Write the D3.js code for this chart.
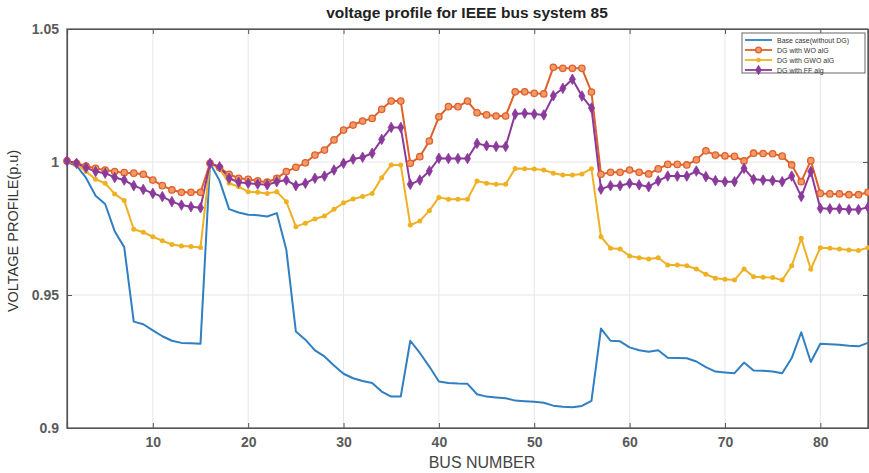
<!DOCTYPE html>
<html>
<head>
<meta charset="utf-8">
<script src="https://cdn.jsdelivr.net/npm/d3@7"></script>
<style>
  body { margin: 0; background: #fff; }
  svg { font-family: "Liberation Sans", Arial, sans-serif; }
</style>
</head>
<body>
<svg id="chart" width="869" height="473"></svg>
<script>
const buses = d3.range(1, 86);

const baseCase = [1.0000,0.9986,0.9940,0.9873,0.9842,0.9740,0.9680,0.9400,0.9390,0.9367,
  0.9345,0.9328,0.9320,0.9319,0.9317,0.9995,0.9930,0.9823,0.9810,0.9802,
  0.9800,0.9795,0.9808,0.9670,0.9363,0.9332,0.9292,0.9269,0.9235,0.9204,
  0.9187,0.9177,0.9169,0.9137,0.9118,0.9118,0.9328,0.9282,0.9231,0.9175,
  0.9169,0.9167,0.9166,0.9127,0.9118,0.9115,0.9112,0.9103,0.9101,0.9099,
  0.9095,0.9084,0.9080,0.9078,0.9083,0.9102,0.9374,0.9328,0.9326,0.9303,
  0.9292,0.9287,0.9292,0.9264,0.9263,0.9262,0.9250,0.9229,0.9212,0.9209,
  0.9206,0.9246,0.9216,0.9215,0.9212,0.9206,0.9263,0.9360,0.9248,0.9317,
  0.9315,0.9313,0.9309,0.9307,0.9320];

const woAlg = [1.0004,0.9995,0.9985,0.9976,0.9970,0.9964,0.9960,0.9958,0.9954,0.9932,
  0.9911,0.9895,0.9886,0.9886,0.9886,0.9995,0.9979,0.9954,0.9939,0.9935,
  0.9929,0.9924,0.9939,0.9964,0.9980,0.9997,1.0026,1.0045,1.0083,1.0120,
  1.0139,1.0154,1.0164,1.0198,1.0229,1.0229,0.9995,1.0020,1.0079,1.0170,
  1.0208,1.0208,1.0229,1.0185,1.0177,1.0173,1.0173,1.0264,1.0264,1.0258,
  1.0256,1.0356,1.0352,1.0352,1.0352,1.0263,0.9954,0.9961,0.9961,0.9970,
  0.9961,0.9955,0.9974,0.9991,0.9991,0.9989,1.0008,1.0042,1.0026,1.0023,
  1.0021,1.0004,1.0033,1.0032,1.0031,1.0022,0.9989,0.9926,1.0005,0.9882,
  0.9880,0.9880,0.9877,0.9877,0.9886];

const gwoAlg = [1.0004,0.9991,0.9964,0.9935,0.9920,0.9880,0.9855,0.9747,0.9736,0.9719,
  0.9704,0.9690,0.9684,0.9682,0.9679,0.9995,0.9974,0.9920,0.9907,0.9888,
  0.9886,0.9882,0.9888,0.9851,0.9757,0.9770,0.9786,0.9797,0.9822,0.9847,
  0.9861,0.9870,0.9882,0.9941,0.9989,0.9989,0.9763,0.9778,0.9817,0.9867,
  0.9860,0.9860,0.9860,0.9929,0.9920,0.9916,0.9916,0.9976,0.9975,0.9974,
  0.9970,0.9958,0.9951,0.9951,0.9955,0.9975,0.9719,0.9676,0.9673,0.9647,
  0.9640,0.9635,0.9640,0.9613,0.9613,0.9610,0.9598,0.9578,0.9563,0.9559,
  0.9556,0.9598,0.9569,0.9567,0.9566,0.9556,0.9610,0.9713,0.9597,0.9678,
  0.9676,0.9673,0.9669,0.9667,0.9678];

const ffAlg = [1.0004,0.9995,0.9979,0.9964,0.9958,0.9942,0.9932,0.9911,0.9897,0.9882,
  0.9870,0.9851,0.9838,0.9832,0.9828,0.9995,0.9982,0.9939,0.9924,0.9920,
  0.9917,0.9914,0.9926,0.9932,0.9911,0.9920,0.9939,0.9947,0.9970,0.9995,
  1.0011,1.0018,1.0033,1.0085,1.0130,1.0130,0.9916,0.9932,0.9966,1.0014,
  1.0013,1.0013,1.0013,1.0070,1.0061,1.0058,1.0058,1.0180,1.0183,1.0180,
  1.0177,1.0249,1.0277,1.0311,1.0248,1.0203,0.9898,0.9911,0.9911,0.9920,
  0.9914,0.9907,0.9929,0.9947,0.9947,0.9947,0.9966,0.9945,0.9930,0.9926,
  0.9926,0.9976,0.9935,0.9932,0.9930,0.9926,0.9947,0.9870,0.9964,0.9826,
  0.9824,0.9824,0.9821,0.9821,0.9830];

const seriesNames = ["Base case(without DG)", "DG with WO alG", "DG with GWO alG", "DG with FF alg"];
const seriesColors = ["#2f7fc1", "#e0602a", "#efb123", "#8a3a9a"];
const seriesMarkers = ["none", "circle", "dot", "diamond"];
const xTicks = [10, 20, 30, 40, 50, 60, 70, 80];
const yTicks = [0.9, 0.95, 1, 1.05];

const svg = d3.select("#chart");
const m = {left: 67, right: 868, top: 29, bottom: 428};

const x = d3.scaleLinear().domain([1, 85]).range([m.left, m.right]);
const y = d3.scaleLinear().domain([0.9, 1.05]).range([m.bottom, m.top]);

// grid
svg.append("g").selectAll("line").data(xTicks).join("line")
  .attr("x1", d => x(d)).attr("x2", d => x(d))
  .attr("y1", m.top).attr("y2", m.bottom)
  .attr("stroke", "#e6e6e6").attr("stroke-width", 1);
svg.append("g").selectAll("line").data(yTicks).join("line")
  .attr("x1", m.left).attr("x2", m.right)
  .attr("y1", d => y(d)).attr("y2", d => y(d))
  .attr("stroke", "#e6e6e6").attr("stroke-width", 1);

// frame
svg.append("rect").attr("x", m.left).attr("y", m.top)
  .attr("width", m.right - m.left).attr("height", m.bottom - m.top)
  .attr("fill", "none").attr("stroke", "#555").attr("stroke-width", 1.2);

// axes (ticks pointing inward, matlab style)
const xAxis = svg.append("g").attr("transform", `translate(0,${m.bottom})`)
  .call(d3.axisBottom(x).tickValues(xTicks).tickSize(-5).tickPadding(9));
const xAxisTop = svg.append("g").attr("transform", `translate(0,${m.top})`)
  .call(d3.axisTop(x).tickValues(xTicks).tickSize(-5).tickFormat(""));
const yAxis = svg.append("g").attr("transform", `translate(${m.left},0)`)
  .call(d3.axisLeft(y).tickValues(yTicks).tickSize(-5).tickPadding(8).tickFormat(d3.format("")));
const yAxisR = svg.append("g").attr("transform", `translate(${m.right},0)`)
  .call(d3.axisRight(y).tickValues(yTicks).tickSize(-5).tickFormat(""));
[xAxis, xAxisTop, yAxis, yAxisR].forEach(g => {
  g.select(".domain").attr("stroke", "#555").attr("stroke-width", 1.2);
  g.selectAll(".tick line").attr("stroke", "#555");
  g.selectAll("text").attr("fill", "#5a5a5a").attr("font-size", 14).attr("font-weight", "bold")
    .attr("font-family", "Liberation Sans, Arial, sans-serif");
});

// lines
const line = d3.line().x((d, i) => x(buses[i])).y(d => y(d));
const allSeries = [baseCase, woAlg, gwoAlg, ffAlg];
const plot = svg.append("g");
allSeries.forEach((s, k) => {
  plot.append("path").datum(s).attr("d", line)
    .attr("fill", "none").attr("stroke", seriesColors[k]).attr("stroke-width", 2)
    .attr("stroke-linejoin", "round");
});

function drawMarker(g, kind, color, cx, cy, scale = 1) {
  if (kind === "circle") {
    g.append("circle").attr("cx", cx).attr("cy", cy).attr("r", 3.2 * scale)
      .attr("fill", "#f09a6a").attr("stroke", color).attr("stroke-width", 1.3);
  } else if (kind === "dot") {
    g.append("circle").attr("cx", cx).attr("cy", cy).attr("r", 2.5 * scale).attr("fill", color);
  } else if (kind === "diamond") {
    g.append("path").attr("d", d3.symbol(d3.symbolDiamond, 32 * scale * scale)())
      .attr("transform", `translate(${cx},${cy})`)
      .attr("fill", color).attr("stroke", color).attr("stroke-width", 0.8);
  }
}
allSeries.forEach((s, k) => {
  if (seriesMarkers[k] === "none") return;
  const g = plot.append("g");
  s.forEach((v, i) => drawMarker(g, seriesMarkers[k], seriesColors[k], x(buses[i]), y(v)));
});

// labels
svg.append("text").attr("x", 467).attr("y", 18).attr("text-anchor", "middle")
  .attr("font-size", 15.5).attr("font-weight", "bold").attr("fill", "#222")
  .text("voltage profile for IEEE bus system 85");
svg.append("text").attr("x", 482).attr("y", 468).attr("text-anchor", "middle")
  .attr("font-size", 16).attr("fill", "#444").text("BUS NUMBER");
svg.append("text").attr("transform", "translate(18,231) rotate(-90)").attr("text-anchor", "middle")
  .attr("font-size", 14.5).attr("fill", "#333").text("VOLTAGE PROFILE(p.u)");

// legend
const lg = svg.append("g");
lg.append("rect").attr("x", 742).attr("y", 33).attr("width", 123).attr("height", 40)
  .attr("fill", "#fff").attr("stroke", "#666").attr("stroke-width", 1);
seriesNames.forEach((name, k) => {
  const ly = 40 + k * 10;
  lg.append("line").attr("x1", 745).attr("x2", 772).attr("y1", ly).attr("y2", ly)
    .attr("stroke", seriesColors[k]).attr("stroke-width", 1.8);
  drawMarker(lg, seriesMarkers[k], seriesColors[k], 758.5, ly, 0.9);
  lg.append("text").attr("x", 777).attr("y", ly + 2.5).attr("font-size", 7)
    .attr("fill", "#333").text(name);
});
</script>
</body>
</html>
